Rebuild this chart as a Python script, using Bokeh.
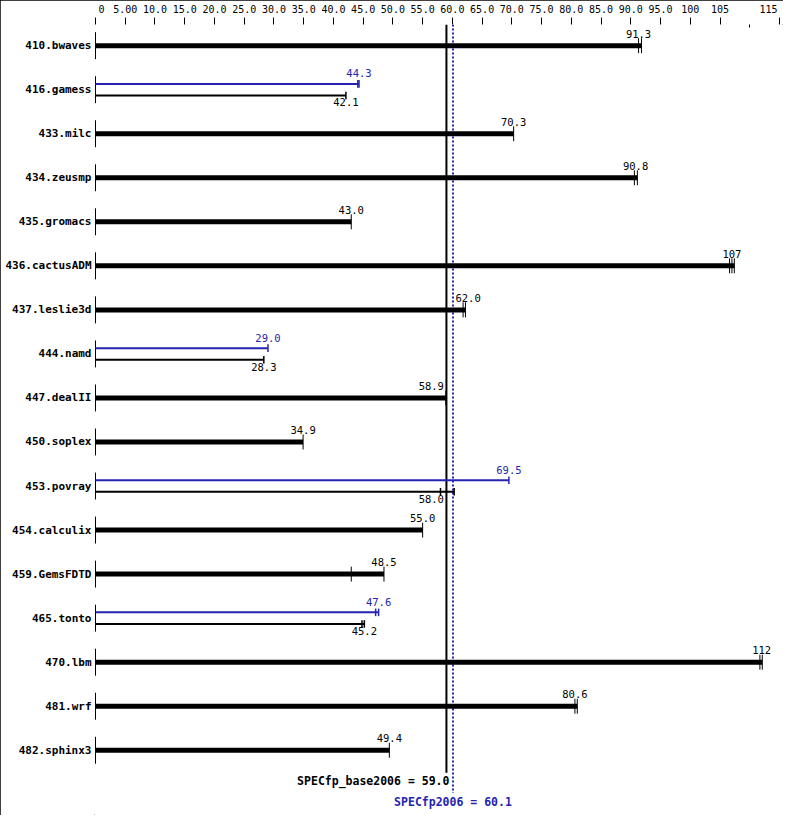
from bokeh.plotting import figure
from bokeh.models import Range1d, FixedTicker
from bokeh.core.properties import value
from bokeh.embed import file_html
from bokeh.resources import INLINE

# ---------------- data ----------------
names = ["410.bwaves", "416.gamess", "433.milc", "434.zeusmp", "435.gromacs",
         "436.cactusADM", "437.leslie3d", "444.namd", "447.dealII", "450.soplex",
         "453.povray", "454.calculix", "459.GemsFDTD", "465.tonto", "470.lbm",
         "481.wrf", "482.sphinx3"]
base_scores = [91.3, 42.1, 70.3, 90.8, 43.0, 107, 62.0, 28.3, 58.9, 34.9,
               58.0, 55.0, 48.5, 45.2, 112, 80.6, 49.4]
peak_scores = [91.3, 44.3, 70.3, 90.8, 43.0, 107, 62.0, 29.0, 58.9, 34.9,
               69.5, 55.0, 48.5, 47.6, 112, 80.6, 49.4]
base_runs = [[91.3, 91.8], [42.1], [70.3], [90.6, 91.1], [43.0],
             [106.6, 107.0, 107.4], [61.8, 62.2], [28.3], [58.9], [34.9],
             [58.0, 60.3], [55.0], [43.0, 48.5], [44.8, 45.2], [111.7, 112.1],
             [80.6, 81.0], [49.4]]
peak_runs = [[91.3, 91.8], [44.1, 44.3], [70.3], [90.6, 91.1], [43.0],
             [106.6, 107.0, 107.4], [61.8, 62.2], [29.0], [58.9], [34.9],
             [69.5], [55.0], [43.0, 48.5], [47.1, 47.6], [111.7, 112.1],
             [80.6, 81.0], [49.4]]
tick_values = [0, 5, 10, 15, 20, 25, 30, 35, 40, 45, 50, 55, 60, 65, 70, 75,
               80, 85, 90, 95, 100, 105, 115]
tick_labels = ["0", "5.00", "10.0", "15.0", "20.0", "25.0", "30.0", "35.0",
               "40.0", "45.0", "50.0", "55.0", "60.0", "65.0", "70.0", "75.0",
               "80.0", "85.0", "90.0", "95.0", "100", "105", "115"]
minor_tick_values = [110]
base_overall = 59.0
peak_overall = 60.1
base_name = "SPECfp_base2006"
peak_name = "SPECfp2006"

# ---------------- layout constants ----------------
W, H = 783, 815
LEFT = 94
TOP = 22
PX_PER_UNIT = 5.948
ROW_PX = 44.15
ROW0 = 21.2
BLUE = "#2424b0"
MONO = "DejaVu Sans Mono"
LABEL_CHAR_W = 6.32   # px per char at 10.5px mono
LABEL_GAP = 2.5       # px kept clear of the summary lines


def rows(px):
    return px / ROW_PX


def fmt(v):
    return f"{v:.0f}" if v >= 100 else f"{v:.1f}"


def label_x(x, text):
    """Centre position of a value label, nudged clear of the summary lines."""
    hw = len(text) * LABEL_CHAR_W / 2 / PX_PER_UNIT
    g = LABEL_GAP / PX_PER_UNIT
    lo, hi = min(base_overall, peak_overall) - g, max(base_overall, peak_overall) + g
    if x - hw < hi and x + hw > lo:
        if x < base_overall:
            return lo - hw
        return hi + hw
    return x


x_start = -1.0 / PX_PER_UNIT
x_end = x_start + (W - LEFT) / PX_PER_UNIT
y_top = -rows(ROW0)
y_bottom = y_top + rows(H - TOP)

p = figure(width=W, height=H, x_range=Range1d(x_start, x_end),
           y_range=Range1d(y_bottom, y_top), x_axis_location="above",
           output_backend="svg", toolbar_location=None,
           min_border_left=LEFT, min_border_top=TOP,
           min_border_right=0, min_border_bottom=0)
p.styles = {"outline": "1px solid black", "outline-offset": "-1px"}
p.outline_line_color = None
p.xgrid.visible = False
p.ygrid.visible = False

# top axis
xa = p.xaxis[0]
xa.ticker = FixedTicker(ticks=tick_values, minor_ticks=minor_tick_values)
overrides = {v: l for v, l in zip(tick_values, tick_labels)}
overrides[tick_values[0]] = "\u00a0\u00a0" + tick_labels[0]
overrides[tick_values[-1]] = tick_labels[-1] + "\u00a0"
xa.major_label_overrides = overrides
xa.axis_line_color = None
xa.major_tick_out = 7
xa.major_tick_in = 0
xa.minor_tick_out = 0
xa.minor_tick_in = 3
xa.major_tick_line_color = "black"
xa.minor_tick_line_color = "black"
xa.major_label_standoff = 3
xa.major_label_text_font = MONO
xa.major_label_text_font_size = "10px"
xa.major_label_text_color = "black"

# left axis with benchmark names
ya = p.yaxis[0]
ya.ticker = FixedTicker(ticks=list(range(len(names))))
ya.major_label_overrides = {i: n for i, n in enumerate(names)}
ya.axis_line_color = None
ya.major_tick_out = 0
ya.major_tick_in = 0
ya.minor_tick_out = 0
ya.minor_tick_in = 0
ya.major_label_standoff = 3
ya.major_label_text_font = MONO
ya.major_label_text_font_style = "bold"
ya.major_label_text_font_size = "11px"
ya.major_label_text_color = "black"

# summary lines (beneath bars)
p.segment(x0=[base_overall], y0=[y_top], x1=[base_overall], y1=[16.51],
          line_color="black", line_width=2)
p.segment(x0=[peak_overall], y0=[y_top], x1=[peak_overall], y1=[16.97],
          line_color=BLUE, line_width=2, line_dash="2 2")

# build bar geometry
zero = dict(y0=[], y1=[])
thick = dict(x1=[], y=[])
thin_b = dict(x1=[], y=[])
thin_p = dict(x1=[], y=[])
tk_thick = dict(x=[], y0=[], y1=[])
tk_b = dict(x=[], y0=[], y1=[])
tk_p = dict(x=[], y0=[], y1=[])
lab_single = dict(x=[], y=[], t=[])
lab_b = dict(x=[], y=[], t=[])
lab_p = dict(x=[], y=[], t=[])

half_zero = rows(13.5)
off = rows(5.8)
dt_thick = rows(7.5)
dt_thin = rows(3.8)

for i in range(len(names)):
    zero["y0"].append(i - half_zero)
    zero["y1"].append(i + half_zero)
    if base_scores[i] == peak_scores[i]:
        thick["x1"].append(max(base_runs[i] + [base_scores[i]]))
        thick["y"].append(i)
        for r in base_runs[i]:
            tk_thick["x"].append(r)
            tk_thick["y0"].append(i - dt_thick)
            tk_thick["y1"].append(i + dt_thick)
        t = fmt(base_scores[i])
        lab_single["x"].append(label_x(base_scores[i], t))
        lab_single["y"].append(i)
        lab_single["t"].append(t)
    else:
        yp, yb = i - off, i + off
        thin_p["x1"].append(max(peak_runs[i] + [peak_scores[i]]))
        thin_p["y"].append(yp)
        thin_b["x1"].append(max(base_runs[i] + [base_scores[i]]))
        thin_b["y"].append(yb)
        for r in peak_runs[i]:
            tk_p["x"].append(r)
            tk_p["y0"].append(yp - dt_thin)
            tk_p["y1"].append(yp + dt_thin)
        for r in base_runs[i]:
            tk_b["x"].append(r)
            tk_b["y0"].append(yb - dt_thin)
            tk_b["y1"].append(yb + dt_thin)
        tp = fmt(peak_scores[i])
        lab_p["x"].append(label_x(peak_scores[i], tp))
        lab_p["y"].append(yp)
        lab_p["t"].append(tp)
        tb = fmt(base_scores[i])
        lab_b["x"].append(label_x(base_scores[i], tb))
        lab_b["y"].append(yb)
        lab_b["t"].append(tb)

# zero-axis segments per row
p.segment(x0=[0] * len(zero["y0"]), y0=zero["y0"], x1=[0] * len(zero["y0"]),
          y1=zero["y1"], line_color="black", line_width=1)

# bars
p.segment(x0=[0] * len(thick["y"]), y0=thick["y"], x1=thick["x1"], y1=thick["y"],
          line_color="black", line_width=5)
p.segment(x0=[0] * len(thin_p["y"]), y0=thin_p["y"], x1=thin_p["x1"], y1=thin_p["y"],
          line_color=BLUE, line_width=2)
p.segment(x0=[0] * len(thin_b["y"]), y0=thin_b["y"], x1=thin_b["x1"], y1=thin_b["y"],
          line_color="black", line_width=2)

# run ticks
p.segment(x0=tk_thick["x"], y0=tk_thick["y0"], x1=tk_thick["x"], y1=tk_thick["y1"],
          line_color="black", line_width=1)
p.segment(x0=tk_p["x"], y0=tk_p["y0"], x1=tk_p["x"], y1=tk_p["y1"],
          line_color=BLUE, line_width=1.5)
p.segment(x0=tk_b["x"], y0=tk_b["y0"], x1=tk_b["x"], y1=tk_b["y1"],
          line_color="black", line_width=1.5)

# value labels
common = dict(text_align="center", text_baseline="middle",
              text_font=value(MONO), text_font_size="10.5px")
p.text(x=lab_single["x"], y=lab_single["y"], text=lab_single["t"],
       y_offset=-12, text_color="black", **common)
p.text(x=lab_p["x"], y=lab_p["y"], text=lab_p["t"],
       y_offset=-10.5, text_color=BLUE, **common)
p.text(x=lab_b["x"], y=lab_b["y"], text=lab_b["t"],
       y_offset=7, text_color="black", **common)

# summary texts
p.text(x=[base_overall], y=[16.69], text=[f"{base_name} = {base_overall:.1f}"],
       text_align="right", text_baseline="middle", x_offset=3,
       text_font=value(MONO), text_font_style="bold", text_font_size="11.5px",
       text_color="black")
p.text(x=[peak_overall], y=[17.17], text=[f"{peak_name} = {peak_overall:.1f}"],
       text_align="center", text_baseline="middle",
       text_font=value(MONO), text_font_style="bold", text_font_size="11.5px",
       text_color=BLUE)

open("out.html", "w").write(file_html(p, INLINE))
